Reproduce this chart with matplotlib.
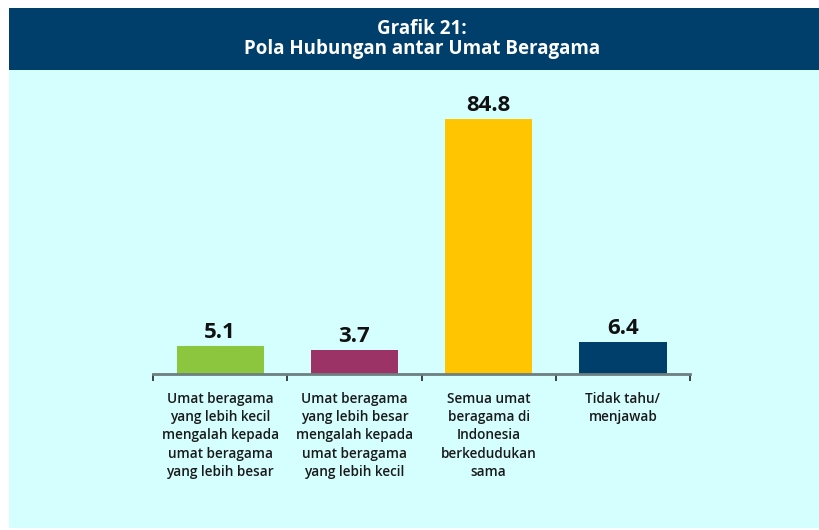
import matplotlib.pyplot as plt
from matplotlib.patches import Rectangle

# data
categories = [
    "Umat beragama\nyang lebih kecil\nmengalah kepada\numat beragama\nyang lebih besar",
    "Umat beragama\nyang lebih besar\nmengalah kepada\numat beragama\nyang lebih kecil",
    "Semua umat\nberagama di\nIndonesia\nberkedudukan\nsama",
    "Tidak tahu/\nmenjawab",
]
values = [5.1, 3.7, 84.8, 6.4]
colors = ['#8CC63F', '#9B3366', '#FFC600', '#003F6B']

title = "Grafik 21:\nPola Hubungan antar Umat Beragama"

base = -4.9  # bars in the source start a little below zero

fig = plt.figure(figsize=(8.2, 5.3), dpi=100)
fig.patch.set_facecolor('white')

# background panel and header band, in their own axes behind the chart
bg = fig.add_axes([0, 0, 1, 1], zorder=-1)
bg.set_xlim(0, 1)
bg.set_ylim(0, 1)
bg.axis('off')
bg.add_patch(Rectangle((0.011, 0.004), 0.989, 0.864, facecolor='#D5FFFF', edgecolor='none'))
bg.add_patch(Rectangle((0.011, 0.868), 0.989, 0.117, facecolor='#003F6B', edgecolor='none'))
bg.text(0.515, 0.927, title, ha='center', va='center', color='white',
        fontsize=13.5, fontweight='bold', linespacing=1.0, family='Open Sans')

ax = fig.add_axes([0.1866, 0.2943, 0.6549, 0.536])
ax.patch.set_visible(False)

x = range(len(values))
heights = [v - base for v in values]
ax.bar(x, heights, bottom=base, width=0.65, color=colors, zorder=2)

for i, v in enumerate(values):
    ax.text(i, v + 0.9, f"{v}", ha='center', va='bottom', fontsize=16,
            fontweight='bold', color='#111111', family='Open Sans')

ax.set_xlim(-0.5, 3.5)
ax.set_ylim(base, 95)

for s in ['top', 'right', 'left']:
    ax.spines[s].set_visible(False)
ax.spines['bottom'].set_color('#6E7F80')
ax.spines['bottom'].set_linewidth(2)
ax.set_yticks([])

ax.set_xticks([-0.5, 0.5, 1.5, 2.5, 3.5])
ax.set_xticklabels([])
ax.tick_params(axis='x', direction='out', length=5, width=1.2, color='#222222')

for i, lab in enumerate(categories):
    ax.text(i, base - 6.2, lab, ha='center', va='top', fontsize=9.8,
            fontweight='semibold', color='#1a1a1a', linespacing=1.4,
            family='Open Sans')

fig.savefig('out.png', dpi=100)
